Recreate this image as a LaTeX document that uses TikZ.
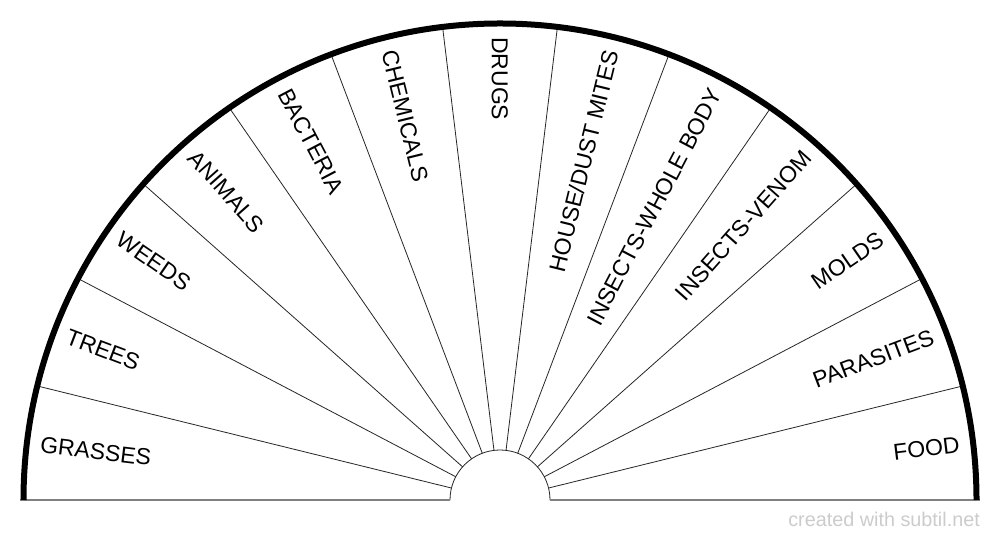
\documentclass[tikz,border=0pt]{standalone}
\usepackage{fontspec}
\setmainfont{Liberation Sans}
\usetikzlibrary{calc}
\definecolor{wmgrey}{HTML}{CCCCCC}
\definecolor{basegrey}{HTML}{808080}
\begin{document}
\begin{tikzpicture}[x=1pt,y=1pt,
  spoke/.style={line width=0.8pt, black!85},
  rim/.style={line width=6pt, black},
  baseln/.style={line width=2pt, basegrey},
  lab/.style={font=\fontsize{23}{23}\selectfont, inner sep=0pt, text height=16.5pt, text depth=0pt},
  leftlab/.style={lab, anchor=west},
  rightlab/.style={lab, anchor=east},
  wmark/.style={font=\fontsize{19.8}{19.8}\selectfont, text=wmgrey, inner sep=0pt, anchor=base east}]
\useasboundingbox[fill=white] (0,0) rectangle (1000,540);
\coordinate (c) at (500,40);
% spokes
\foreach \k in {1,...,12}{
  \draw[spoke] ($(c)+({180-\k*180/13}:50)$) -- ($(c)+({180-\k*180/13}:476.5)$);
}
% inner arc
\draw[spoke] ($(c)+(-50,0)$) arc[start angle=180,end angle=0,radius=50];
% base lines
\draw[baseln] ($(c)+(-480,0)$) -- ($(c)+(-50,0)$);
\draw[baseln] ($(c)+(50,0)$) -- ($(c)+(480,0)$);
% outer rim
\draw[rim] ($(c)+(-476.5,0)$) arc[start angle=180,end angle=0,radius=476.5];
% labels
\def\R{463}
\node[leftlab, rotate=173.077-180] (l0) at ($(c)+(173.077:\R)$) {GRASSES};
\node[leftlab, rotate=159.231-180] (l1) at ($(c)+(159.231:\R)$) {TREES};
\node[leftlab, rotate=145.385-180] (l2) at ($(c)+(145.385:\R)$) {WEEDS};
\node[leftlab, rotate=131.538-180] (l3) at ($(c)+(131.538:\R)$) {ANIMALS};
\node[leftlab, rotate=117.692-180] (l4) at ($(c)+(117.692:\R)$) {BACTERIA};
\node[leftlab, rotate=103.846-180] (l5) at ($(c)+(103.846:\R)$) {CHEMICALS};
\node[leftlab, rotate=90-180] (l6) at ($(c)+(90:\R)$) {DRUGS};
\node[rightlab, rotate=76.154] (l7) at ($(c)+(76.154:\R)$) {HOUSE/DUST MITES};
\node[rightlab, rotate=62.308] (l8) at ($(c)+(62.308:\R)$) {INSECTS-WHOLE BODY};
\node[rightlab, rotate=48.462] (l9) at ($(c)+(48.462:\R)$) {INSECTS-VENOM};
\node[rightlab, rotate=34.615] (l10) at ($(c)+(34.615:\R)$) {MOLDS};
\node[rightlab, rotate=20.769] (l11) at ($(c)+(20.769:\R)$) {PARASITES};
\node[rightlab, rotate=6.923] (l12) at ($(c)+(6.923:\R)$) {FOOD};
% watermark
\node[wmark] (wm) at (980,13) {created with subtil.net};
\end{tikzpicture}
\end{document}
